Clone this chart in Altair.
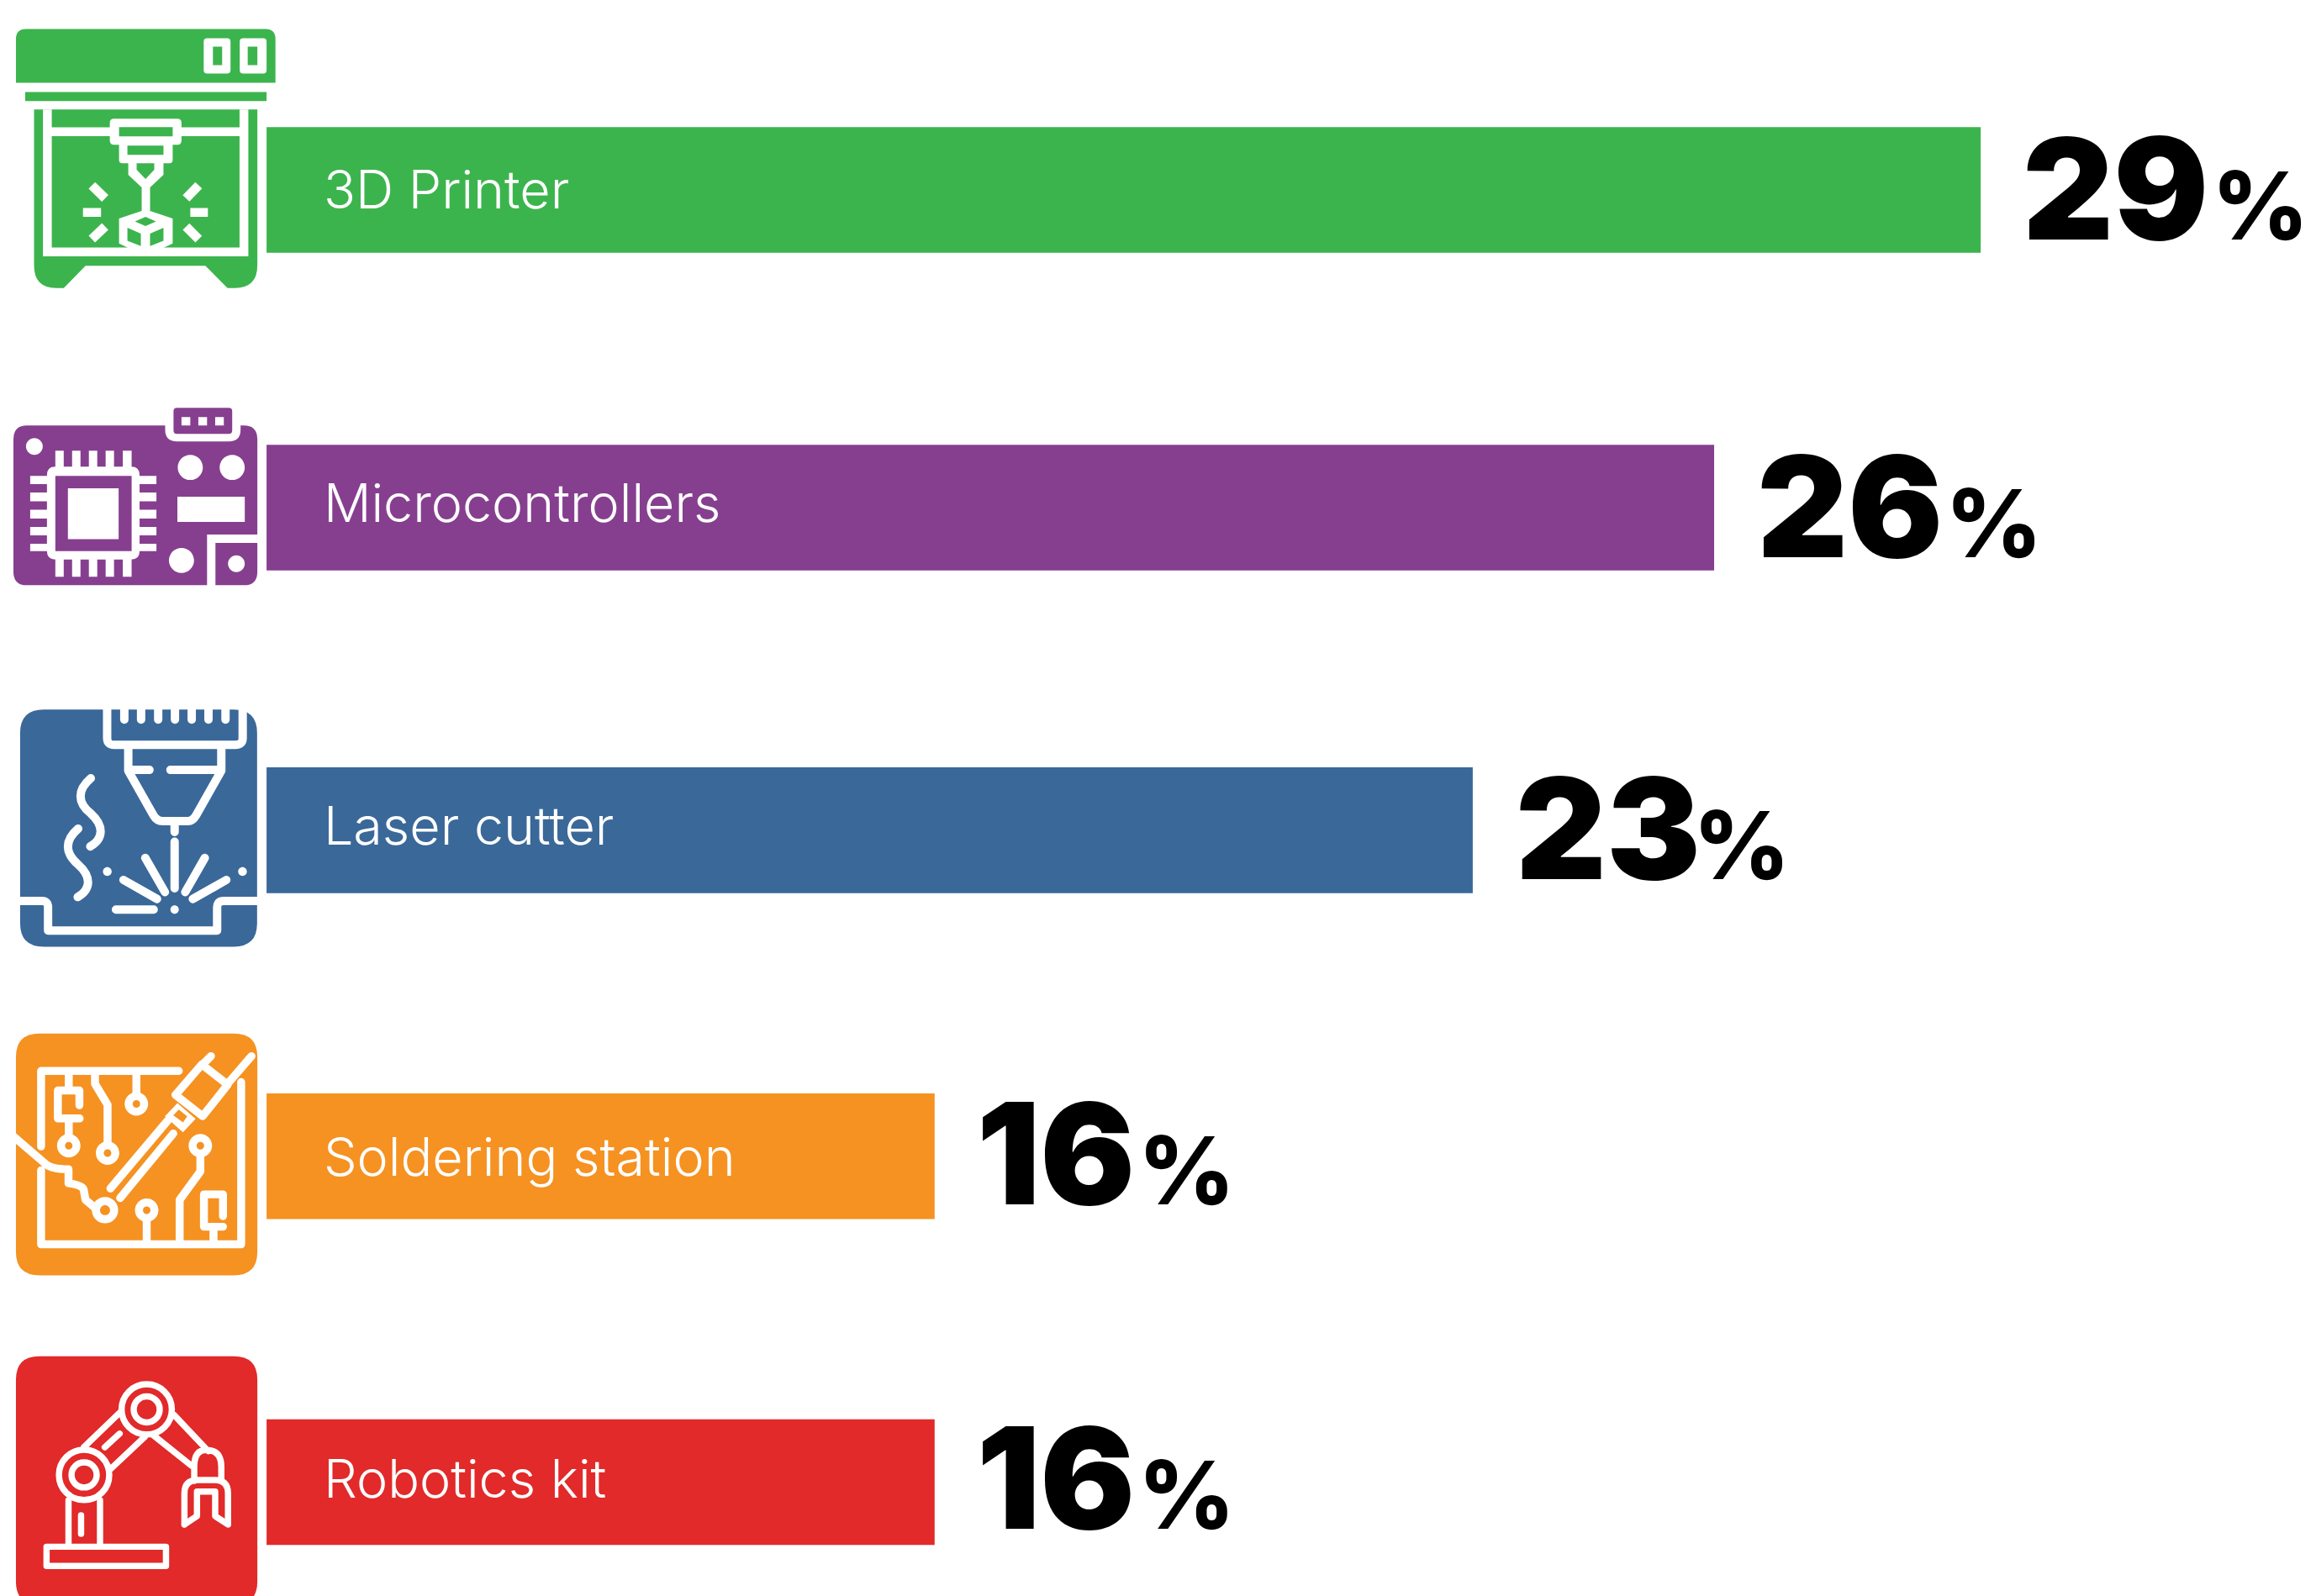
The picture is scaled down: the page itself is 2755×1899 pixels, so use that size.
import re
import altair as alt
import pandas as pd

categories = ["3D Printer", "Microcontrollers", "Laser cutter", "Soldering station", "Robotics kit"]
values = [29, 26, 23, 16, 16]
colors = ["#3CB44D", "#863F8F", "#3A6899", "#F59222", "#E12A29"]

# the picture's bars are not proportional to their labels: piecewise scale
X_DOMAIN = [0, 16, 23, 26, 29]
X_RANGE = [310, 1107, 1749, 2037, 2355]
ROW_RANGE = [211, 595, 980, 1369, 1763]
ROW_CENTRES = [225, 603, 988, 1375.5, 1763.5]
ICON_X = 318
LABEL_DY = [22, 17, 17, 23, 18]
VALUE_DY = [59, 59, 58, 57, 56]
VALUE_DX = [50, 51, 51, 50, 50]
PCT_DX = [276, 276, 263, 243, 243]
LABEL_FONT = "Inter"
VALUE_FONT = "Inter"
LABEL_SIZE = 63
VALUE_SIZE = 168
PCT_SIZE = 112


def rect(x0, y0, x1, y1):
    return f"M{x0},{y0}L{x1},{y0}L{x1},{y1}L{x0},{y1}Z"


def rr(x0, y0, x1, y1, r):
    tl, tr, br, bl = r if isinstance(r, tuple) else (r, r, r, r)
    return (f"M{x0+tl},{y0}L{x1-tr},{y0}Q{x1},{y0} {x1},{y0+tr}L{x1},{y1-br}Q{x1},{y1} {x1-br},{y1}"
            f"L{x0+bl},{y1}Q{x0},{y1} {x0},{y1-bl}L{x0},{y0+tl}Q{x0},{y0} {x0+tl},{y0}Z")


def poly(*p):
    return "M" + "L".join(f"{x},{y}" for x, y in p) + "Z"


def line(*p):
    return "M" + "L".join(f"{x},{y}" for x, y in p)


def circ(cx, cy, r):
    k = 0.5523 * r
    return (f"M{cx-r},{cy}C{cx-r},{cy-k} {cx-k},{cy-r} {cx},{cy-r}C{cx+k},{cy-r} {cx+r},{cy-k} {cx+r},{cy}"
            f"C{cx+r},{cy+k} {cx+k},{cy+r} {cx},{cy+r}C{cx-k},{cy+r} {cx-r},{cy+k} {cx-r},{cy}Z")


def bar(x0, y0, x1, y1, w):
    dx, dy = x1 - x0, y1 - y0
    n = (dx * dx + dy * dy) ** 0.5
    ox, oy = -dy / n * w / 2, dx / n * w / 2
    return poly((x0 + ox, y0 + oy), (x1 + ox, y1 + oy), (x1 - ox, y1 - oy), (x0 - ox, y0 - oy))


# ---- icon outlines, one dict per row --------------------------------------
printer = dict(
    base=rr(19, 33, 328.6, 97, (12, 12, 0, 0)) + rect(30, 108, 318, 119)
    + "M40.6,129L307,129L307,315Q307,342 280,342L271.4,342L245,315.5L102,315.5L76,342L67,342Q40.6,342 40.6,315Z",
    round="",
    butt=line((56.5, 129), (56.5, 299), (291, 299), (291, 129)) + line((56.5, 155.4), (291, 155.4)),
    solid=rr(243, 44, 275, 86, 4) + rr(286, 44, 318, 86, 4) + rr(131, 140, 216.5, 171, 5) + rr(142, 165, 206, 193, 4)
    + poly((153, 190), (195, 190), (195, 207), (179, 222), (179, 250), (206, 259), (206, 289), (173.6, 304),
           (142, 289), (142, 259), (169, 250), (169, 222), (153, 207))
    + bar(109.6, 219.5, 125.4, 235, 11) + rect(99, 246.5, 120.5, 257) + bar(125.4, 268.6, 109.6, 283.7, 11)
    + bar(237, 219.5, 222, 235, 11) + rect(227, 246.5, 248, 257) + bar(222, 268.6, 237, 283.7, 11),
    inset=rect(254, 54, 265, 76) + rect(295.5, 54, 307, 76) + rect(142, 150, 206, 161) + rect(152, 172, 195, 183)
    + poly((163, 193), (184, 193), (184, 201), (173.6, 212), (163, 201))
    + poly((173.6, 257), (186, 262.6), (173.6, 268), (161, 262.6))
    + poly((152, 270), (168, 277), (168, 292), (152, 285.6))
    + poly((179, 277), (195, 270), (195, 285.6), (179, 292)),
    top="",
    w=10.5,
)

pins = ""
for a, b in [(66, 76), (86, 96), (106, 116), (126, 136), (146.5, 157)]:
    pins += rect(a, 535, b, 554) + rect(a, 665, b, 685.5)
for a, b in [(565, 575), (585, 595.5), (605.6, 616), (626, 636), (646, 655)]:
    pins += rect(36, a, 56, b) + rect(166.5, a, 186.6, b)
micro = dict(
    base=rr(16, 505, 307, 695.6, 16),
    round="",
    butt="",
    solid=rr(197, 480, 287, 524, 14) + circ(41, 530, 10) + rr(56, 554, 166.5, 665, 10) + pins
    + circ(227, 555, 15) + circ(277, 555, 15) + circ(216.5, 666, 15) + rect(211.6, 590, 292, 620)
    + rect(247, 635, 310, 700),
    inset=rr(207, 484, 277, 515, 4) + rect(66, 565, 157, 655) + rr(257, 645, 307, 695.6, (0, 0, 16, 0)),
    top=rect(216.5, 495, 227, 505) + rect(236.6, 495, 247, 505) + rect(256.7, 495, 267, 505)
    + rect(81, 580, 141.5, 640.5) + circ(282, 670, 10),
    w=10,
)

teeth = "".join(line((x, 842), (x, 856)) for x in (148.3, 168.3, 188.7, 208.7, 228.7, 248.7, 269))
laser = dict(
    base=rr(24, 844, 306.7, 1127, 28),
    round=teeth
    + line((127.8, 840), (127.8, 878)) + "Q127.8,886 136,886" + line((136, 886), (281, 886))
    + "Q289.5,886 289.5,878" + line((289.5, 878), (289.5, 840))
    + line((153, 886), (153, 917), (183, 970)) + "Q187,977 194,977" + line((194, 977), (224, 977))
    + "Q230,977 234,970" + line((234, 970), (264, 917), (264, 886))
    + line((155, 916), (178.3, 916)) + line((203.3, 916), (263, 916))
    + line((208.3, 981.7), (208.3, 990)) + line((208.3, 1001.7), (208.3, 1057.3))
    + line((173.3, 1021), (196.7, 1061.7)) + line((244.3, 1021), (221, 1061.7))
    + line((147.3, 1047.3), (187.3, 1070)) + line((270, 1047.3), (230, 1070))
    + line((138.3, 1082.7), (183.3, 1082.7))
    + "M108.3,926C92,940 92,955 108.3,968C124,982 124,998 107.7,1007.3"
    + "M93.3,986C77,1000 77,1015 93.3,1029C109,1043 109,1058 92.7,1067.7"
    + "M20,1072.3L50,1072.3Q57.3,1072.3 57.3,1080L57.3,1107.7L259,1107.7L259,1080Q259,1072.3 267,1072.3L310,1072.3",
    butt="",
    solid=circ(208.3, 1082.7, 5) + circ(128, 1037.3, 5.2) + circ(289.3, 1037.3, 5.2),
    inset="",
    top="",
    w=10,
)

solder = dict(
    base=rr(19, 1229, 307, 1517.6, 28),
    round=line((49, 1363.8), (49, 1273.7), (213.3, 1273.7))
    + line((49, 1392.3), (49, 1480.6), (287.7, 1480.6), (287.7, 1287))
    + line((94.7, 1314.6), (94.7, 1297), (69, 1297), (69, 1330.4), (95, 1330.4))
    + line((82, 1273.7), (82, 1297)) + line((82, 1330.4), (82, 1355))
    + line((113.3, 1273.7), (113.3, 1289), (128.3, 1314), (128.3, 1365))
    + line((162.7, 1273.7), (162.7, 1310))
    + line((239, 1363), (239, 1393.7), (214.3, 1427.5), (214.3, 1480.6))
    + line((175, 1440), (175, 1480))
    + line((266, 1447), (266, 1421), (243.3, 1421), (243.3, 1459.6), (266, 1459.6))
    + line((254.7, 1459.6), (254.7, 1480))
    + "M14,1350L53,1383.5Q60,1391 81.7,1391L81.7,1407.7Q100,1410 100,1416.5L102,1427.5L113.3,1437"
    + poly((240.7, 1266), (271.7, 1290), (241.7, 1327.7), (209.3, 1302.3))
    + line((300, 1256), (273.3, 1287)) + line((251.7, 1256), (242.7, 1265))
    + line((200, 1333), (131.7, 1414)) + line((206.7, 1348.4), (143.3, 1425.3)),
    butt="",
    solid=circ(82, 1363, 14) + circ(128.3, 1371.7, 14) + circ(162.7, 1313, 14) + circ(239, 1363, 14)
    + circ(175, 1440, 14) + circ(125.3, 1439.8, 15.7)
    + poly((196.7, 1327.8), (211.7, 1312), (233.3, 1330.8), (218.3, 1347)),
    inset=circ(82, 1363, 4.5) + circ(128.3, 1371.7, 4.5) + circ(162.7, 1313, 4.5) + circ(239, 1363, 4.5)
    + circ(175, 1440, 4.5) + circ(125.3, 1439.8, 6)
    + poly((206.7, 1326.5), (213.3, 1319.8), (223.3, 1327.8), (218.3, 1335)),
    top="",
    w=9.5,
)

robot = dict(
    base=rr(19, 1613.3, 307, 1910, 28),
    round=circ(175, 1676.6, 30) + circ(175, 1676.6, 15.5) + circ(100.3, 1754.8, 30) + circ(100.3, 1754.8, 15)
    + line((100, 1721.8), (143.3, 1680)) + line((131.7, 1748), (173.3, 1708.7))
    + line((125, 1721.8), (142.7, 1705.6))
    + line((206.7, 1682.3), (248.3, 1726.3)) + line((181.7, 1706.5), (228.3, 1743.8))
    + "M231.7,1762L231.7,1745Q231.7,1725 246,1725Q264,1725 264,1745L264,1762"
    + "M220,1814L220,1776.8Q220,1761 236,1761L256,1761Q272,1761 272,1776.8L272,1814L256.7,1804L256.7,1774.6L235,1774.6L235,1804L220,1814"
    + line((81.7, 1785), (81.7, 1840)) + line((119.3, 1785), (119.3, 1840))
    + line((96.7, 1803), (96.7, 1825))
    + poly((55.5, 1840.5), (198, 1840.5), (198, 1863.5), (55.5, 1863.5)),
    butt="",
    solid="",
    inset="",
    top="",
    w=7.5,
)

icons = [printer, micro, laser, solder, robot]


def shift(path, ox, oy):
    return re.sub(
        r"(-?\d+(?:\.\d+)?),(-?\d+(?:\.\d+)?)",
        lambda m: f"{float(m[1]) - ox:.1f},{float(m[2]) - oy:.1f}",
        path,
    )


rows = pd.DataFrame(
    {"rank": range(5), "category": categories, "value": values, "color": colors, "label": [str(v) for v in values]}
)
rows["zero"] = 0

icon_rows = []
for i, ic in enumerate(icons):
    for kind in ("base", "round", "butt", "solid", "inset", "top"):
        if ic[kind]:
            icon_rows.append(
                {"rank": i, "zero": 0, "kind": kind, "color": colors[i], "w": ic["w"],
                 "path": shift(ic[kind], ICON_X, ROW_CENTRES[i])}
            )
icon_df = pd.DataFrame(icon_rows)

xs = alt.Scale(domain=X_DOMAIN, range=X_RANGE, zero=False, nice=False)
ys = alt.Scale(domain=[0, 1, 2, 3, 4], range=ROW_RANGE, zero=False, nice=False)
X = alt.X("value:Q", scale=xs, axis=None)
X0 = alt.X("zero:Q", scale=xs, axis=None)
Y = alt.Y("rank:Q", scale=ys, axis=None)

bars = alt.Chart(rows).mark_bar(orient="horizontal", size=150, clip=False).encode(
    x=X, x2="zero:Q", y=Y, color=alt.Color("color:N", scale=None, legend=None)
)


def icon_layer(kind, color_field):
    d = icon_df[icon_df.kind == kind]
    shape = alt.Shape("path:N", scale=None, legend=None)
    size = alt.value(4)
    if kind in ("round", "butt"):
        cap = "round" if kind == "round" else "butt"
        join = "round" if kind == "round" else "miter"
        return alt.Chart(d).mark_point(filled=False, opacity=1, strokeCap=cap, strokeJoin=join).encode(
            x=X0, y=Y, shape=shape, size=size, stroke=alt.value("white"),
            strokeWidth=alt.StrokeWidth("w:Q", scale=None, legend=None),
        )
    fill = alt.Color("color:N", scale=None, legend=None) if color_field else alt.value("white")
    return alt.Chart(d).mark_point(filled=True, opacity=1, strokeWidth=0).encode(
        x=X0, y=Y, shape=shape, size=size, color=fill
    )


layers = [bars]
layers.append(icon_layer("base", True))
layers.append(icon_layer("round", False))
layers.append(icon_layer("butt", False))
layers.append(icon_layer("solid", False))
layers.append(icon_layer("inset", True))
layers.append(icon_layer("top", False))

for i in range(5):
    row = rows[rows["rank"] == i]
    layers.append(
        alt.Chart(row).mark_text(
            align="left", baseline="alphabetic", dx=68, dy=LABEL_DY[i], font=LABEL_FONT,
            fontSize=LABEL_SIZE, fontWeight=300, color="white",
        ).encode(x=X0, y=Y, text="category:N")
    )
    layers.append(
        alt.Chart(row).mark_text(
            align="left", baseline="alphabetic", dx=VALUE_DX[i], dy=VALUE_DY[i], font=VALUE_FONT,
            fontSize=VALUE_SIZE, fontWeight=900, color="black",
        ).encode(x=X, y=Y, text="label:N")
    )
    layers.append(
        alt.Chart(row).mark_text(
            align="left", baseline="alphabetic", dx=PCT_DX[i], dy=VALUE_DY[i], font=VALUE_FONT,
            fontSize=PCT_SIZE, fontWeight=800, color="black", text="%",
        ).encode(x=X, y=Y)
    )

chart = alt.layer(*layers).properties(
    width=2747, height=1891, padding=0, autosize=alt.AutoSizeParams(type="none"), background="white"
).configure_view(stroke=None)

chart.save("out.html", embed_options={"renderer": "svg", "actions": False})
